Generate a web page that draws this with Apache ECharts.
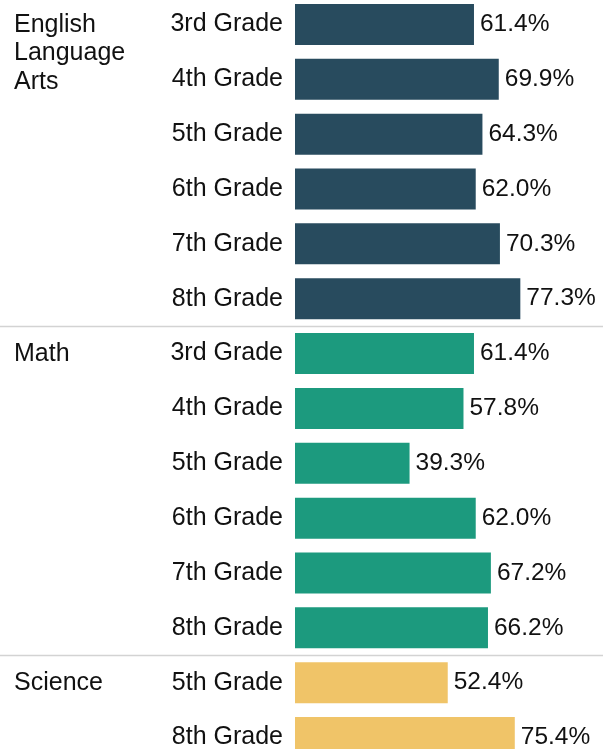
<!DOCTYPE html>
<html>
<head>
<meta charset="utf-8">
<script src="https://cdn.jsdelivr.net/npm/echarts@6/dist/echarts.min.js"></script>
<style>
  html, body { margin: 0; padding: 0; background: #fff; }
  #chart { width: 603px; height: 749px; }
</style>
</head>
<body>
<div id="chart"></div>
<script>
const subjects = ["English\nLanguage\nArts", "Math", "Science"];
const elaGrades = ["3rd Grade", "4th Grade", "5th Grade", "6th Grade", "7th Grade", "8th Grade"];
const elaValues = [61.4, 69.9, 64.3, 62.0, 70.3, 77.3];
const mathGrades = ["3rd Grade", "4th Grade", "5th Grade", "6th Grade", "7th Grade", "8th Grade"];
const mathValues = [61.4, 57.8, 39.3, 62.0, 67.2, 66.2];
const sciGrades = ["5th Grade", "8th Grade"];
const sciValues = [52.4, 75.4];

const colors = ["#284b5e", "#1c9a7e", "#f0c468"];
const font = "'Liberation Sans', Arial, Helvetica, sans-serif";

const groups = [
  { grades: elaGrades, values: elaValues },
  { grades: mathGrades, values: mathValues },
  { grades: sciGrades, values: sciValues },
];

// flatten groups into rows, keep index per row since grade names repeat
const rowLabels = [];
const rowData = [];
const groupStart = [];
groups.forEach((g, gi) => {
  groupStart.push(rowLabels.length);
  g.grades.forEach((name, i) => {
    rowLabels.push(name);
    rowData.push({ value: g.values[i], itemStyle: { color: colors[gi] } });
  });
});
const rowIds = rowLabels.map((_, i) => String(i));

const chart = echarts.init(document.getElementById("chart"));

chart.setOption({
  animation: false,
  grid: {
    left: 295,
    right: 16.5,
    top: -3,
    bottom: -16,
    outerBoundsMode: "none",
    containLabel: false,
  },
  xAxis: { type: "value", min: 0, max: 100, show: false },
  yAxis: {
    type: "category",
    data: rowIds,
    inverse: true,
    axisLine: { show: false },
    axisTick: { show: false },
    splitLine: { show: false },
    axisLabel: {
      margin: 12,
      color: "#111",
      fontSize: 25,
      fontFamily: font,
      formatter: (v, i) => rowLabels[i],
    },
  },
  series: [
    {
      type: "bar",
      data: rowData,
      barWidth: 41,
      label: {
        show: true,
        position: "right",
        distance: 6,
        color: "#111",
        fontSize: 24.5,
        fontFamily: font,
        formatter: (p) => p.value.toFixed(1) + "%",
      },
    },
  ],
});

// subject names and separators, placed from the category scale
const rowY = (i) => chart.convertToPixel({ yAxisIndex: 0 }, rowIds[i]);
const graphics = [];
groupStart.forEach((start, gi) => {
  graphics.push({
    type: "text",
    x: 14,
    y: rowY(start) - 14,
    style: {
      text: subjects[gi],
      fill: "#111",
      fontSize: 25,
      fontFamily: font,
      lineHeight: 28.5,
      verticalAlign: "top",
    },
  });
  if (gi > 0) {
    const y = Math.round((rowY(start - 1) + rowY(start)) / 2) + 0.5;
    graphics.push({
      type: "line",
      shape: { x1: 0, y1: y, x2: 603, y2: y },
      style: { stroke: "#d3d3d3", lineWidth: 1.5 },
    });
  }
});
chart.setOption({ graphic: graphics });
</script>
</body>
</html>
